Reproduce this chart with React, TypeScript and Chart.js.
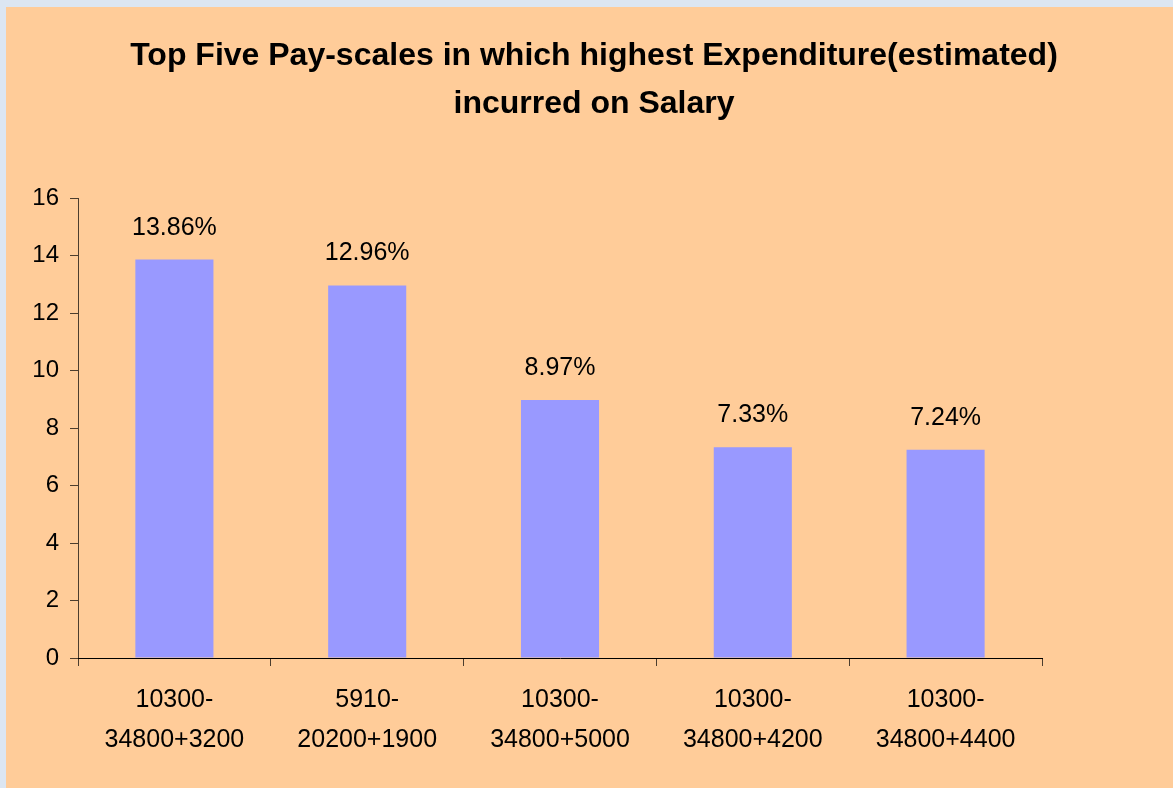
import React, { useEffect, useRef } from "react";
import { Chart, registerables } from "chart.js";

Chart.register(...registerables);

const categories: string[][] = [
  ["10300-", "34800+3200"],
  ["5910-", "20200+1900"],
  ["10300-", "34800+5000"],
  ["10300-", "34800+4200"],
  ["10300-", "34800+4400"],
];
const values: number[] = [13.86, 12.96, 8.97, 7.33, 7.24];
const titleLines: string[] = [
  "Top Five Pay-scales in which highest Expenditure(estimated)",
  "incurred on Salary",
];
const yMin = 0;
const yMax = 16;
const yStep = 2;

const FONT = "'Liberation Sans', Arial, sans-serif";

const valueLabels = {
  id: "valueLabels",
  afterDatasetsDraw(chart: any) {
    const ctx = chart.ctx;
    const meta = chart.getDatasetMeta(0);
    ctx.save();
    ctx.font = `25px ${FONT}`;
    ctx.fillStyle = "#000";
    ctx.textAlign = "center";
    ctx.textBaseline = "alphabetic";
    meta.data.forEach((bar: any, i: number) => {
      ctx.fillText(values[i].toFixed(2) + "%", bar.x, bar.y - 25);
    });
    ctx.restore();
  },
};

const pageTitle = {
  id: "pageTitle",
  afterDraw(chart: any) {
    const ctx = chart.ctx;
    ctx.save();
    ctx.font = `bold 32px ${FONT}`;
    ctx.fillStyle = "#000";
    ctx.textAlign = "center";
    ctx.textBaseline = "middle";
    titleLines.forEach((line, i) => {
      ctx.fillText(line, 588, 49 + i * 48);
    });
    ctx.restore();
  },
};

export default function App() {
  const ref = useRef<HTMLCanvasElement | null>(null);
  useEffect(() => {
    if (!ref.current) return;
    const chart = new Chart(ref.current, {
      type: "bar",
      data: {
        labels: categories,
        datasets: [
          {
            data: values,
            backgroundColor: "#9999FF",
            borderWidth: 0,
            categoryPercentage: 1,
            barPercentage: 0.405,
          },
        ],
      },
      options: {
        animation: false,
        responsive: false,
        devicePixelRatio: 1,
        layout: { padding: { left: 0, right: 131, top: 191, bottom: 0 } },
        plugins: {
          legend: { display: false },
          tooltip: { enabled: false },
          title: { display: false },
        },
        scales: {
          x: {
            afterFit: (s: any) => {
              s.height = 130;
            },
            grid: {
              offset: true,
              drawOnChartArea: false,
              drawTicks: true,
              tickLength: 8,
              color: "rgba(0,0,0,0.7)",
            },
            border: { display: true, color: "#000", width: 1 },
            ticks: {
              color: "#000",
              font: { family: FONT, size: 25, lineHeight: 1.6 },
              padding: 14,
              maxRotation: 0,
              autoSkip: false,
            },
          },
          y: {
            min: yMin,
            max: yMax,
            afterFit: (s: any) => {
              s.width = 72;
            },
            grid: {
              drawOnChartArea: false,
              drawTicks: true,
              tickLength: 8,
              color: "rgba(0,0,0,0.7)",
            },
            border: { display: true, color: "rgba(0,0,0,0.7)", width: 1 },
            ticks: {
              stepSize: yStep,
              color: "#000",
              font: { family: FONT, size: 24 },
              padding: 11,
            },
          },
        },
      },
      plugins: [valueLabels, pageTitle],
    });
    return () => chart.destroy();
  }, []);

  return (
    <div
      style={{
        position: "fixed",
        left: 0,
        top: 0,
        width: 1173,
        height: 788,
        background: "#DCE6F2",
        overflow: "hidden",
      }}
    >
      <div
        style={{
          position: "absolute",
          left: 6,
          top: 7,
          width: 1167,
          height: 781,
          background: "#FFCC99",
        }}
      >
        <canvas ref={ref} width={1167} height={781} style={{ display: "block" }} />
      </div>
    </div>
  );
}
